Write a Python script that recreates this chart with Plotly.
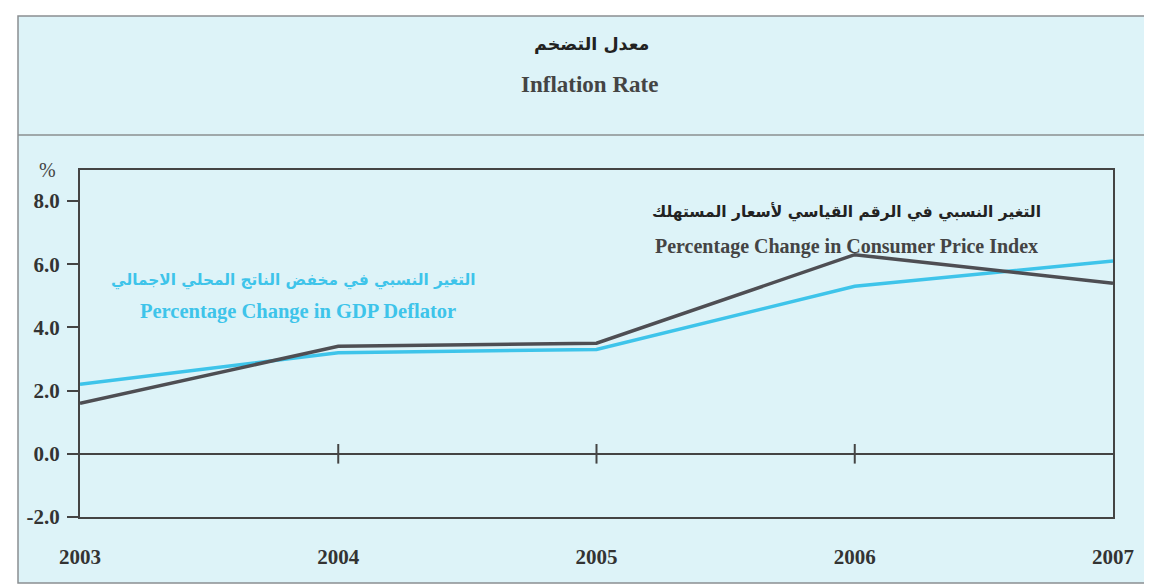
import plotly.graph_objects as go

years = [2003, 2004, 2005, 2006, 2007]
cpi = [1.6, 3.4, 3.5, 6.3, 5.4]
gdp_deflator = [2.2, 3.2, 3.3, 5.3, 6.1]
y_ticks = [-2, 0, 2, 4, 6, 8]
y_tick_text = ["-2.0", "0.0", "2.0", "4.0", "6.0", "8.0"]
year_labels = ["2003", "2004", "2005", "2006", "2007"]

# page body adds an 8px margin; size the figure so it fits the window
OFF = 8
W, H = 1152 - OFF, 587 - OFF
def px(x):
    return (x - OFF) / W
def py(y):
    return (H - (y - OFF)) / H

SERIF = "Liberation Serif, Times New Roman, serif"
ARAB = "DejaVu Sans, Noto Sans, sans-serif"
DARK = "#4e4e53"
CYAN = "#3ec4ea"
BG = "#ddf3f8"

fig = go.Figure()
fig.add_trace(go.Scatter(x=years, y=gdp_deflator, mode="lines",
                         line=dict(color=CYAN, width=3.5), showlegend=False,
                         name="GDP Deflator"))
fig.add_trace(go.Scatter(x=years, y=cpi, mode="lines",
                         line=dict(color=DARK, width=3.5), showlegend=False,
                         name="CPI"))
# cross tick marks on the zero line
fig.add_trace(go.Scatter(x=years[1:4], y=[0, 0, 0], mode="markers",
                         marker=dict(symbol="line-ns", size=14,
                                     line=dict(color="#444", width=2)),
                         showlegend=False, hoverinfo="skip"))

shapes = [
    dict(type="rect", xref="paper", yref="paper", x0=px(18), x1=1.0,
         y0=py(583), y1=py(16), fillcolor=BG,
         line=dict(color="#8a8f91", width=1.5), layer="below"),
    dict(type="line", xref="paper", yref="paper", x0=px(18), x1=1.0,
         y0=py(135), y1=py(135), line=dict(color="#8a8f91", width=1.5),
         layer="below"),
]

def ann(text, x, y, family, size, color):
    return dict(text=text, x=px(x), y=py(y), xref="paper", yref="paper",
                xanchor="center", yanchor="middle", showarrow=False,
                font=dict(family=family, size=size, color=color))

annotations = [
    ann("<b>معدل التضخم</b>", 591, 44, ARAB, 17.5, "#222"),
    ann("<b>Inflation Rate</b>", 589, 85, SERIF, 23, "#444"),
    ann("%", 47, 170, SERIF, 20, "#444"),
    ann("<b>التغير النسبي في الرقم القياسي لأسعار المستهلك</b>", 846, 212, ARAB, 15.5, "#222"),
    ann("<b>Percentage Change in Consumer Price Index</b>", 846, 247, SERIF, 20, "#444"),
    ann("<b>التغير النسبي في مخفض الناتج المحلي الاجمالي</b>", 293, 280, ARAB, 15.3, CYAN),
    ann("<b>Percentage Change in GDP Deflator</b>", 298, 311, SERIF, 20.5, CYAN),
]

fig.update_layout(
    width=W, height=H,
    margin=dict(l=0, r=0, t=0, b=0, autoexpand=False),
    paper_bgcolor="white",
    plot_bgcolor="white",
    shapes=shapes,
    annotations=annotations,
    xaxis=dict(domain=[px(80), px(1113)], range=[2003, 2007],
               tickvals=years, ticktext=[f"<b>{t}</b>" for t in year_labels],
               ticks="", showgrid=False, zeroline=False, automargin=False,
               showline=True, mirror=True, linecolor="#444", linewidth=2,
               tickfont=dict(family=SERIF, size=21, color="#333"),
               ticklabelstandoff=20),
    yaxis=dict(domain=[py(517), py(170)], range=[-2, 8.98],
               tickvals=y_ticks, ticktext=[f"<b>{t}</b>" for t in y_tick_text],
               ticks="outside", ticklen=11, tickwidth=2, tickcolor="#444",
               showgrid=False, zeroline=True, zerolinecolor="#444", zerolinewidth=2,
               showline=True, mirror=True, linecolor="#444", linewidth=2,
               automargin=False,
               tickfont=dict(family=SERIF, size=21, color="#333"),
               ticklabelstandoff=3),
)

fig.write_html("out.html")
